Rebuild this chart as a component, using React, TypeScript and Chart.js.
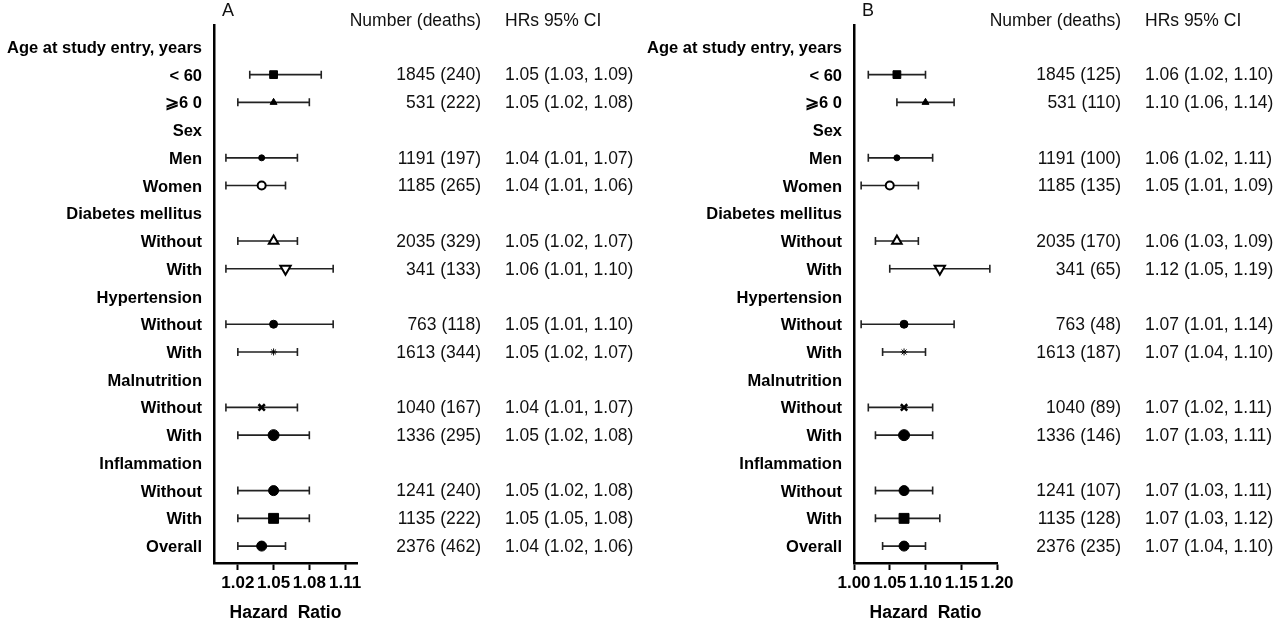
import React, { useEffect, useRef } from "react";
import { Chart, registerables } from "chart.js";
Chart.register(...registerables);

const FONT = '"Liberation Sans", Arial, Helvetica, sans-serif';

// Row labels (top to bottom)
const rowLabels = [
  "Age at study entry, years",
  "< 60",
  "⩾6 0",
  "Sex",
  "Men",
  "Women",
  "Diabetes mellitus",
  "Without",
  "With",
  "Hypertension",
  "Without",
  "With",
  "Malnutrition",
  "Without",
  "With",
  "Inflammation",
  "Without",
  "With",
  "Overall",
];

// Rows that carry an estimate
const dataRows = [1, 2, 4, 5, 7, 8, 10, 11, 13, 14, 16, 17, 18];

// Panel A
const hrA = [1.05, 1.05, 1.04, 1.04, 1.05, 1.06, 1.05, 1.05, 1.04, 1.05, 1.05, 1.05, 1.04];
const loA = [1.03, 1.02, 1.01, 1.01, 1.02, 1.01, 1.01, 1.02, 1.01, 1.02, 1.02, 1.02, 1.02];
const hiA = [1.09, 1.08, 1.07, 1.06, 1.07, 1.10, 1.10, 1.07, 1.07, 1.08, 1.08, 1.08, 1.06];
const countsA = ["1845 (240)", "531 (222)", "1191 (197)", "1185 (265)", "2035 (329)", "341 (133)", "763 (118)", "1613 (344)", "1040 (167)", "1336 (295)", "1241 (240)", "1135 (222)", "2376 (462)"];
const ciTextA = ["1.05 (1.03, 1.09)", "1.05 (1.02, 1.08)", "1.04 (1.01, 1.07)", "1.04 (1.01, 1.06)", "1.05 (1.02, 1.07)", "1.06 (1.01, 1.10)", "1.05 (1.01, 1.10)", "1.05 (1.02, 1.07)", "1.04 (1.01, 1.07)", "1.05 (1.02, 1.08)", "1.05 (1.02, 1.08)", "1.05 (1.05, 1.08)", "1.04 (1.02, 1.06)"];
const ticksA = [1.02, 1.05, 1.08, 1.11];

// Panel B
const hrB = [1.06, 1.10, 1.06, 1.05, 1.06, 1.12, 1.07, 1.07, 1.07, 1.07, 1.07, 1.07, 1.07];
const loB = [1.02, 1.06, 1.02, 1.01, 1.03, 1.05, 1.01, 1.04, 1.02, 1.03, 1.03, 1.03, 1.04];
const hiB = [1.10, 1.14, 1.11, 1.09, 1.09, 1.19, 1.14, 1.10, 1.11, 1.11, 1.11, 1.12, 1.10];
const countsB = ["1845 (125)", "531 (110)", "1191 (100)", "1185 (135)", "2035 (170)", "341 (65)", "763 (48)", "1613 (187)", "1040 (89)", "1336 (146)", "1241 (107)", "1135 (128)", "2376 (235)"];
const ciTextB = ["1.06 (1.02, 1.10)", "1.10 (1.06, 1.14)", "1.06 (1.02, 1.11)", "1.05 (1.01, 1.09)", "1.06 (1.03, 1.09)", "1.12 (1.05, 1.19)", "1.07 (1.01, 1.14)", "1.07 (1.04, 1.10)", "1.07 (1.02, 1.11)", "1.07 (1.03, 1.11)", "1.07 (1.03, 1.11)", "1.07 (1.03, 1.12)", "1.07 (1.04, 1.10)"];
const ticksB = [1.0, 1.05, 1.1, 1.15, 1.2];

// Marker styles per data row
const markerStyle = ["rect", "triangle", "circle", "circle", "triangle", "triangle", "circle", "star", "crossRot", "circle", "circle", "rect", "circle"];
const markerRadius = [5.5, 4, 3, 4, 5.5, 6, 4, 3.5, 4.5, 5.5, 5, 7, 5];
const markerOpen = [false, false, false, true, true, true, false, false, false, false, false, false, false];
const markerRotation = [0, 0, 0, 0, 0, 180, 0, 0, 0, 0, 0, 0, 0];

type Panel = {
  letter: string;
  hr: number[];
  lo: number[];
  hi: number[];
  counts: string[];
  ciText: string[];
  ticks: number[];
  min: number;
  max: number;
  width: number;
};

const panels: Panel[] = [
  { letter: "A", hr: hrA, lo: loA, hi: hiA, counts: countsA, ciText: ciTextA, ticks: ticksA, min: 1.0, max: 1.12, width: 640 },
  { letter: "B", hr: hrB, lo: loB, hi: hiB, counts: countsB, ciText: ciTextB, ticks: ticksB, min: 1.0, max: 1.2, width: 648 },
];

const AXIS_LEFT = 214;
const AXIS_RIGHT = 357;
const TOP = 25;
const HEIGHT = 626;

function ForestPanel({ p }: { p: Panel }) {
  const ref = useRef<HTMLCanvasElement | null>(null);
  useEffect(() => {
    if (!ref.current) return;
    const whiskers = {
      id: "whiskers",
      beforeDatasetsDraw(chart: any) {
        const { ctx } = chart;
        const xs = chart.scales.x;
        const ys = chart.scales.y;
        ctx.save();
        ctx.strokeStyle = "#222";
        ctx.lineWidth = 1.6;
        dataRows.forEach((row, k) => {
          const y = ys.getPixelForValue(row);
          const x1 = xs.getPixelForValue(p.lo[k]);
          const x2 = xs.getPixelForValue(p.hi[k]);
          ctx.beginPath();
          ctx.moveTo(x1, y);
          ctx.lineTo(x2, y);
          ctx.moveTo(x1, y - 4);
          ctx.lineTo(x1, y + 4);
          ctx.moveTo(x2, y - 4);
          ctx.lineTo(x2, y + 4);
          ctx.stroke();
        });
        ctx.restore();
      },
    };
    const columns = {
      id: "columns",
      afterDraw(chart: any) {
        const { ctx } = chart;
        const ys = chart.scales.y;
        ctx.save();
        ctx.fillStyle = "#111";
        ctx.textBaseline = "middle";
        ctx.font = `18px ${FONT}`;
        ctx.textAlign = "left";
        ctx.fillText(p.letter, 222, 11);
        ctx.font = `17.5px ${FONT}`;
        ctx.textAlign = "right";
        ctx.fillText("Number (deaths)", 481, 21);
        ctx.textAlign = "left";
        ctx.fillText("HRs 95% CI", 505, 21);
        dataRows.forEach((row, k) => {
          const y = ys.getPixelForValue(row) + 1;
          ctx.textAlign = "right";
          ctx.fillText(p.counts[k], 481, y);
          ctx.textAlign = "left";
          ctx.fillText(p.ciText[k], 505, y);
        });
        ctx.restore();
      },
    };
    const chart = new Chart(ref.current, {
      type: "scatter",
      data: {
        datasets: [
          {
            data: dataRows.map((row, k) => ({ x: p.hr[k], y: row })),
            pointStyle: markerStyle as any,
            pointRadius: markerRadius,
            pointHoverRadius: markerRadius,
            pointRotation: markerRotation,
            pointBackgroundColor: markerOpen.map((o) => (o ? "#fff" : "#000")),
            pointBorderColor: "#000",
            pointBorderWidth: markerStyle.map((s, k) => (s === "crossRot" ? 2.5 : markerOpen[k] ? 2 : 1)),
            clip: false as any,
          },
        ],
      },
      options: {
        responsive: false,
        animation: false,
        devicePixelRatio: 1,
        layout: { padding: { top: TOP, left: 0, right: p.width - AXIS_RIGHT, bottom: 0 } },
        plugins: { legend: { display: false }, tooltip: { enabled: false } },
        events: [],
        scales: {
          x: {
            type: "linear",
            min: p.min,
            max: p.max,
            afterBuildTicks: (s: any) => {
              s.ticks = p.ticks.map((v) => ({ value: v }));
            },
            afterFit: (s: any) => {
              s.height = HEIGHT - 563;
            },
            ticks: {
              callback: (v: any) => Number(v).toFixed(2),
              font: { family: FONT, size: 17, weight: "bold" },
              color: "#000",
              padding: 3,
              maxRotation: 0,
              autoSkip: false,
            },
            grid: { display: true, drawOnChartArea: false, drawTicks: true, tickLength: 7, tickWidth: 2, tickColor: "#000" },
            border: { display: true, width: 2.5, color: "#000" },
            title: {
              display: true,
              text: "Hazard  Ratio",
              font: { family: FONT, size: 17.5, weight: "bold" },
              color: "#000",
              padding: { top: 0, bottom: 2 },
            },
          },
          y: {
            type: "linear",
            reverse: true,
            min: -0.79,
            max: 18.61,
            afterBuildTicks: (s: any) => {
              s.ticks = rowLabels.map((_, i) => ({ value: i }));
            },
            afterFit: (s: any) => {
              s.width = AXIS_LEFT;
            },
            ticks: {
              callback: (_v: any, i: number) => rowLabels[i],
              font: { family: FONT, size: 16.5, weight: "bold" },
              color: "#000",
              padding: 12,
              labelOffset: 1.5,
              autoSkip: false,
            },
            grid: { display: true, drawOnChartArea: false, drawTicks: false },
            border: { display: true, width: 2.5, color: "#000" },
          },
        },
      } as any,
      plugins: [whiskers, columns],
    });
    return () => chart.destroy();
  }, [p]);
  return <canvas ref={ref} width={p.width} height={HEIGHT} style={{ display: "block", width: p.width, height: HEIGHT }} />;
}

export default function App() {
  return (
    <div style={{ position: "fixed", left: 0, top: 0, width: 1288, height: HEIGHT, background: "#fff", display: "flex" }}>
      {panels.map((p) => (
        <ForestPanel key={p.letter} p={p} />
      ))}
    </div>
  );
}
